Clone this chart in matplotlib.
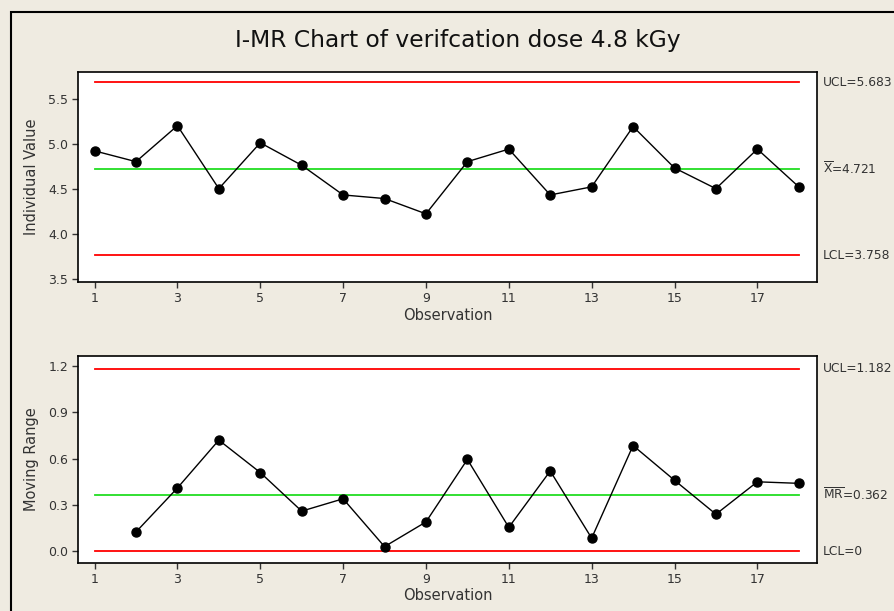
import matplotlib.pyplot as plt
from matplotlib.patches import Rectangle

# datos
obs = list(range(1, 19))
valores = [4.92, 4.80, 5.20, 4.50, 5.01, 4.76, 4.43, 4.39, 4.22,
           4.80, 4.94, 4.43, 4.52, 5.19, 4.73, 4.50, 4.94, 4.52]
obs_mr = list(range(2, 19))
rangos = [0.125, 0.41, 0.72, 0.51, 0.26, 0.34, 0.03, 0.19, 0.595,
          0.155, 0.52, 0.085, 0.685, 0.46, 0.24, 0.45, 0.44]

lim_i = [5.683, 4.721, 3.758]
lim_mr = [1.182, 0.362, 0.0]
etiq_i = ["UCL=5.683", r"$\overline{\mathrm{X}}$=4.721", "LCL=3.758"]
etiq_mr = ["UCL=1.182", r"$\overline{\mathrm{MR}}$=0.362", "LCL=0"]
xticks = [1, 3, 5, 7, 9, 11, 13, 15, 17]
yticks_i = [3.5, 4.0, 4.5, 5.0, 5.5]
yticks_mr = [0.0, 0.3, 0.6, 0.9, 1.2]

fondo = "#efebe1"
plt.rcParams["font.family"] = ["DejaVu Sans"]
plt.rcParams["mathtext.fontset"] = "dejavusans"

W, H = 895, 611
fig = plt.figure(figsize=(W / 100, H / 100), dpi=100, facecolor=fondo)

# marco negro de la figura (recortado a la derecha y abajo)
fig.patches.append(Rectangle((11 / W, -0.1), 1.2, 1 - 12 / H + 0.1,
                             transform=fig.transFigure, fill=False,
                             edgecolor="black", linewidth=1.5))

fig.text(458 / W, 1 - 40 / H, "I-MR Chart of verifcation dose 4.8 kGy",
         ha="center", va="center", fontsize=16.8, color="#111111")


def panel(ax, x, y, lims, etiqs, yticks, ylim, ylabel, fmt):
    ax.set_facecolor("white")
    colores = ["red", "#22dd22", "red"]
    for v, c in zip(lims, colores):
        ax.plot([1, 18], [v, v], color=c, linewidth=1.3, zorder=1)
    ax.plot(x, y, color="black", linewidth=1, marker="o", markersize=6.5, zorder=3)
    ax.set_xlim(0.6, 18.44)
    ax.set_ylim(*ylim)
    ax.set_xticks(xticks)
    ax.set_yticks(yticks)
    ax.set_yticklabels([fmt.format(t) for t in yticks])
    ax.tick_params(labelsize=9, length=4, width=1, color="#333333",
                   labelcolor="#333333", pad=3)
    ax.set_xlabel("Observation", fontsize=10.5, color="#333333", labelpad=2)
    ax.set_ylabel(ylabel, fontsize=10.5, color="#333333", labelpad=7)
    for s in ax.spines.values():
        s.set_linewidth(1.2)
    for v, t in zip(lims, etiqs):
        ax.annotate(t, xy=(1, v), xycoords=("axes fraction", "data"),
                    xytext=(4, 0), textcoords="offset points",
                    ha="left", va="center", fontsize=8.8, color="#333333")


ax1 = fig.add_axes([78 / W, 1 - 282 / H, (817 - 78) / W, (282 - 72) / H])
panel(ax1, obs, valores, lim_i, etiq_i, yticks_i, (3.462, 5.797),
      "Individual Value", "{:.1f}")

ax2 = fig.add_axes([78 / W, 1 - 563 / H, (817 - 78) / W, (563 - 356) / H])
panel(ax2, obs_mr, rangos, lim_mr, etiq_mr, yticks_mr, (-0.076, 1.265),
      "Moving Range", "{:.1f}")

fig.savefig("out.png", dpi=100, facecolor=fondo)
